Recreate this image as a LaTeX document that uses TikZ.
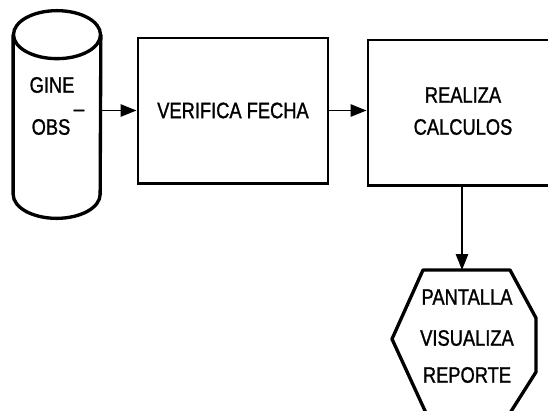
\documentclass[tikz,border=0pt]{standalone}
\usepackage{fontspec}
\setmainfont{Liberation Sans}
\newfontfamily\narrowfont[FakeStretch=0.82,FakeBold=1.2]{Liberation Sans}
\usetikzlibrary{arrows.meta,calc}

\begin{document}
\begin{tikzpicture}[
  x=0.02cm,
  y=-0.02cm,
  >={Triangle[length=9pt,width=7pt]},
  proc/.style={draw, line width=1.7pt, minimum width=190*0.02cm, minimum height=145*0.02cm, inner sep=0pt},
  txt/.style={font=\narrowfont\fontsize{12.7}{15}\selectfont, inner sep=0pt, align=center},
  thick line/.style={line width=1.9pt, line join=round},
  link/.style={->, line width=0.8pt}
]
  \useasboundingbox (0,0) rectangle (548,410);
  \clip (0,0) rectangle (548,410);

  % data store
  \node[minimum width=87*0.02cm, minimum height=207*0.02cm, inner sep=0pt] (store) at (57,114.5) {};
  \draw[thick line] ($(store.north)+(0,24)$) ellipse[x radius=43.5, y radius=24];
  \draw[thick line] ($(store.north west)+(0,24)$) -- ($(store.south west)+(0,-24)$)
    arc[start angle=180, end angle=360, x radius=43.5, y radius=-24] -- ($(store.north east)+(0,24)$);
  \node[txt] (gine) at (52,85) {GINE};
  \node[txt] (under) at (79,109) {\_};
  \node[txt] (obs) at (51,127) {OBS};

  \node[proc, txt] (verifica) at (233,110.5) {VERIFICA FECHA};
  \node[proc] (realiza) at (463,112.5) {};
  \node[txt] (realizatxt) at (463,95) {REALIZA};
  \node[txt] (calculos) at (463,127) {CALCULOS};

  % display
  \draw[thick line] (423,270) -- (510,270) -- (536,318) -- (536,372)
    -- (510,413) -- (426,413) -- (392,339) -- cycle;
  \coordinate (disptop) at (462,270);
  \node[txt] (pantalla) at (467,297) {PANTALLA};
  \node[txt] (visualiza) at (467,338) {VISUALIZA};
  \node[txt] (reporte) at (467,375) {REPORTE};

  \draw[link] (store.east |- verifica.west) -- (verifica.west);
  \draw[link] (verifica.east) -- (realiza.west |- verifica.east);
  \draw[link] (realiza.south -| disptop) -- (disptop);
\end{tikzpicture}
\end{document}
